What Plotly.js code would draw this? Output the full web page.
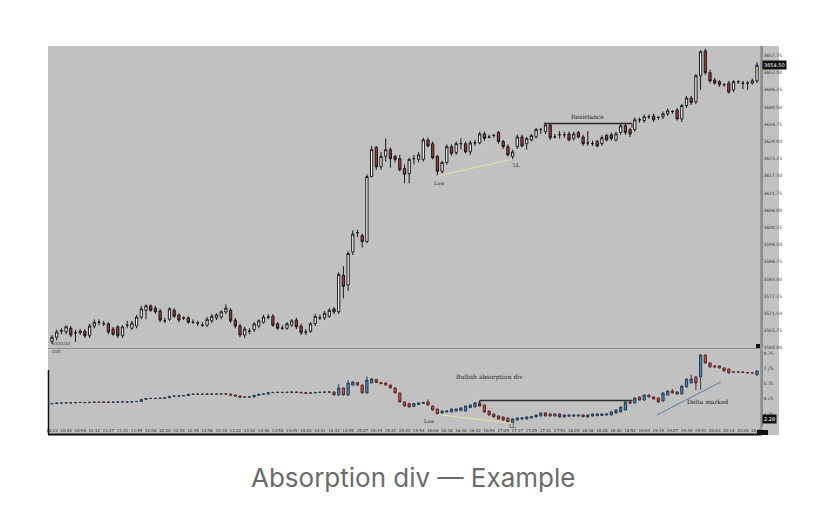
<!DOCTYPE html>
<html><head><meta charset="utf-8">
<script src="https://cdn.plot.ly/plotly-3.0.1.min.js"></script>
<style>html,body{margin:0;padding:0;background:#fff;}#chart{width:828px;height:523px;}</style>
</head><body><div id="chart"></div>
<script>
// ---------- main price candles ----------
const priceOpen = [3562.00,3563.50,3565.50,3565.25,3566.50,3565.00,3565.00,3565.50,3564.00,3567.25,
3568.50,3568.00,3568.00,3566.25,3567.00,3564.00,3567.50,3566.50,3567.25,3570.25,
3572.50,3574.00,3573.25,3572.25,3569.00,3569.50,3572.50,3571.00,3570.00,3570.00,
3568.50,3568.25,3567.50,3567.50,3569.00,3570.00,3570.25,3572.00,3572.50,3569.25,
3567.25,3564.25,3565.50,3566.00,3567.25,3568.50,3570.25,3570.50,3568.00,3566.50,
3566.50,3567.50,3569.25,3567.25,3565.25,3565.50,3568.00,3570.00,3570.00,3570.50,
3573.00,3572.00,3584.25,3581.00,3592.00,3598.50,3597.50,3595.50,3617.25,3627.00,
3620.50,3624.00,3626.25,3624.00,3623.25,3620.00,3618.25,3623.25,3623.00,3623.00,
3629.50,3628.25,3624.00,3619.00,3622.00,3627.25,3625.25,3628.25,3628.25,3625.50,
3628.50,3628.50,3631.50,3630.50,3631.00,3632.00,3629.00,3627.25,3624.00,3627.25,
3630.50,3628.25,3629.50,3630.50,3633.00,3632.25,3634.50,3630.50,3631.25,3631.25,
3631.50,3630.00,3632.00,3630.50,3628.50,3628.25,3629.00,3628.25,3631.00,3631.25,
3629.50,3632.00,3634.25,3633.00,3633.00,3636.25,3636.00,3637.25,3637.50,3637.00,
3637.25,3638.25,3639.00,3639.50,3636.50,3641.00,3643.50,3642.25,3651.00,3659.25,
3652.00,3649.50,3649.00,3648.00,3648.50,3646.25,3649.00,3648.50,3648.50,3648.50,
3649.25];
const priceHigh = [3564.25,3566.00,3566.50,3567.50,3567.25,3566.00,3566.25,3566.25,3568.00,3569.50,
3569.50,3569.00,3568.50,3567.00,3567.50,3567.50,3569.00,3569.00,3571.00,3574.00,
3574.50,3574.50,3574.00,3573.00,3570.00,3573.50,3573.25,3571.50,3570.50,3570.50,
3569.50,3569.00,3568.50,3570.25,3571.25,3571.50,3572.50,3574.50,3573.25,3570.00,
3568.00,3567.00,3566.50,3568.50,3569.50,3571.00,3571.25,3571.25,3568.50,3567.50,
3568.50,3569.50,3570.00,3568.00,3566.25,3568.50,3571.25,3571.00,3572.25,3573.25,
3573.50,3585.25,3587.25,3592.25,3599.25,3599.50,3598.25,3618.00,3627.50,3627.50,
3625.50,3630.00,3627.00,3624.50,3624.50,3621.25,3623.50,3624.50,3625.50,3630.25,
3630.25,3629.00,3624.50,3622.50,3628.00,3628.00,3629.00,3630.00,3629.00,3629.25,
3629.50,3632.25,3632.25,3631.25,3631.50,3632.50,3629.50,3628.00,3626.25,3631.25,
3631.25,3630.50,3631.50,3633.50,3633.50,3635.25,3635.00,3631.50,3632.50,3632.25,
3632.25,3632.25,3632.50,3631.25,3632.50,3629.25,3629.50,3631.00,3631.50,3632.00,
3632.25,3635.00,3635.00,3633.50,3637.00,3637.00,3638.00,3638.00,3638.25,3637.50,
3639.00,3640.00,3639.50,3640.25,3641.50,3644.25,3644.25,3651.50,3659.50,3660.00,
3653.00,3650.25,3649.50,3648.50,3649.25,3649.50,3649.50,3649.25,3649.25,3650.00,
3655.50];
const priceLow = [3561.25,3562.50,3564.50,3564.50,3563.50,3562.00,3564.25,3563.25,3563.25,3566.50,
3567.50,3567.25,3564.50,3564.00,3563.25,3563.25,3566.50,3566.00,3566.50,3569.50,
3569.50,3572.00,3571.25,3568.50,3568.25,3569.00,3570.00,3568.50,3569.25,3568.00,
3568.00,3567.25,3567.00,3567.00,3568.25,3569.25,3569.50,3571.25,3568.25,3566.50,
3563.50,3563.25,3564.50,3565.25,3566.50,3568.00,3569.50,3567.00,3566.00,3566.00,
3566.00,3567.00,3566.25,3564.25,3564.25,3565.00,3567.25,3569.25,3569.25,3570.00,
3571.25,3571.25,3576.50,3579.00,3591.00,3597.00,3593.50,3595.00,3617.00,3619.50,
3619.50,3622.25,3620.25,3622.00,3619.00,3615.00,3615.00,3621.25,3622.00,3622.25,
3627.00,3623.00,3617.50,3618.25,3621.25,3624.25,3624.50,3626.25,3625.00,3624.50,
3627.50,3628.00,3629.25,3630.00,3630.25,3628.25,3626.50,3624.00,3623.00,3626.50,
3627.00,3626.25,3629.00,3630.00,3631.50,3631.50,3629.50,3630.00,3630.00,3630.25,
3629.00,3629.25,3630.00,3627.50,3627.50,3627.50,3627.00,3627.50,3629.00,3629.25,
3629.00,3631.25,3631.25,3630.50,3632.25,3635.25,3635.25,3636.50,3635.50,3636.25,
3636.50,3637.50,3638.25,3636.00,3635.50,3640.25,3641.25,3641.50,3646.25,3651.25,
3648.50,3648.00,3647.25,3647.25,3645.00,3645.50,3648.25,3646.50,3646.25,3648.00,
3648.50];
const priceClose = [3563.50,3565.25,3565.75,3567.00,3564.25,3565.00,3565.50,3564.00,3567.25,3568.50,
3568.50,3568.00,3565.25,3564.50,3564.00,3567.00,3567.50,3568.25,3570.25,3573.00,
3574.00,3572.50,3572.00,3569.25,3569.00,3573.00,3570.50,3569.25,3570.00,3568.50,
3568.50,3568.25,3567.50,3569.50,3570.50,3571.00,3572.00,3573.25,3569.00,3567.25,
3564.25,3566.25,3565.50,3568.00,3569.00,3570.25,3570.25,3567.50,3566.50,3566.50,
3568.00,3569.00,3567.00,3565.00,3565.25,3568.00,3570.50,3570.00,3571.50,3572.50,
3572.00,3584.50,3580.50,3591.50,3598.00,3598.50,3595.50,3617.25,3626.25,3620.50,
3624.00,3626.25,3623.25,3623.00,3619.50,3618.00,3623.00,3623.25,3624.50,3629.50,
3627.50,3623.50,3619.00,3622.00,3627.25,3625.00,3628.25,3628.25,3625.50,3628.50,
3628.50,3631.50,3630.00,3630.50,3631.00,3629.00,3627.25,3624.50,3625.50,3630.50,
3627.50,3630.00,3631.00,3633.00,3633.00,3634.50,3630.25,3630.50,3631.25,3631.25,
3629.50,3631.50,3630.50,3628.25,3628.50,3628.25,3627.50,3630.25,3629.50,3630.00,
3631.50,3634.25,3632.00,3631.50,3636.25,3636.25,3637.25,3637.25,3636.25,3637.00,
3638.25,3639.25,3639.00,3636.50,3641.00,3643.50,3642.00,3651.00,3659.00,3652.00,
3649.25,3648.50,3648.00,3648.00,3645.50,3649.00,3649.00,3648.50,3648.50,3649.25,
3654.50];

// ---------- cumulative delta candles (thousands) ----------
const deltaOpen = [3.76,3.80,3.84,3.85,3.88,3.86,3.89,3.90,3.88,3.92,
3.93,3.91,3.94,3.92,3.93,3.95,3.96,3.94,3.98,4.00,
4.20,4.28,4.30,4.29,4.32,4.36,4.50,4.52,4.54,4.58,
4.70,4.71,4.72,4.70,4.73,4.71,4.73,4.74,4.72,4.63,
4.53,4.42,4.43,4.44,4.60,4.70,4.72,4.86,4.88,4.89,
4.87,4.90,4.91,4.89,4.85,4.80,4.84,4.88,4.90,4.91,
4.93,4.63,5.32,4.63,5.60,5.85,5.60,4.83,5.81,6.15,
5.85,5.80,5.61,5.32,4.83,3.95,3.80,3.50,3.70,3.80,
3.95,3.55,3.26,2.87,2.97,2.97,3.06,3.10,3.06,3.40,
3.46,3.85,3.65,3.06,2.77,2.57,2.48,2.38,1.89,2.18,
2.28,2.28,2.38,2.48,2.57,2.87,2.77,2.57,2.77,2.48,
2.55,2.55,2.57,2.67,2.48,2.57,2.60,2.62,2.67,2.67,
2.87,2.97,3.16,3.95,3.85,4.44,4.14,4.63,4.44,4.34,
4.04,4.63,5.02,4.93,4.73,5.42,5.81,6.40,6.40,8.55,
7.77,7.48,7.48,7.28,7.18,6.89,6.87,6.89,6.84,6.80,
6.59];
const deltaHigh = [3.83,3.87,3.88,3.91,3.91,3.92,3.93,3.93,3.95,3.96,
3.96,3.97,3.97,3.96,3.98,3.99,3.99,4.01,4.03,4.24,
4.31,4.33,4.33,4.35,4.39,4.54,4.55,4.57,4.61,4.74,
4.74,4.75,4.75,4.76,4.76,4.76,4.77,4.77,4.75,4.66,
4.56,4.46,4.47,4.64,4.73,4.75,4.89,4.91,4.92,4.92,
4.93,4.94,4.94,4.92,4.88,4.87,4.91,4.93,4.94,4.96,
4.96,5.70,5.36,6.10,5.95,5.90,5.65,6.45,6.30,6.20,
5.90,5.85,5.66,5.35,4.86,3.98,3.85,3.85,3.90,3.95,
4.20,3.60,3.30,3.10,3.10,3.30,3.30,3.40,3.60,3.70,
3.95,4.09,3.70,3.10,2.82,2.62,2.52,2.42,2.32,2.42,
2.42,2.52,2.55,2.72,2.92,2.92,2.82,2.82,2.82,2.72,
2.70,2.72,2.71,2.72,2.72,2.82,2.82,2.81,2.80,3.02,
3.20,3.50,4.00,4.00,4.40,4.48,4.70,4.68,4.48,4.38,
4.88,5.06,5.20,4.98,5.56,6.25,6.60,6.45,8.65,8.60,
7.82,7.52,7.52,7.32,7.22,6.92,6.92,6.92,6.87,6.83,
7.03];
const deltaLow = [3.73,3.77,3.81,3.82,3.83,3.83,3.86,3.85,3.85,3.89,
3.88,3.88,3.89,3.89,3.90,3.92,3.91,3.91,3.95,3.97,
4.17,4.25,4.26,4.26,4.29,4.33,4.47,4.49,4.51,4.55,
4.67,4.68,4.67,4.67,4.68,4.68,4.70,4.69,4.60,4.50,
4.39,4.39,4.40,4.41,4.57,4.67,4.69,4.83,4.85,4.84,
4.84,4.87,4.86,4.82,4.77,4.77,4.81,4.85,4.87,4.88,
4.60,4.58,4.60,4.55,5.55,5.55,4.78,4.80,5.78,5.80,
5.70,5.58,5.28,4.80,3.90,3.50,3.42,3.46,3.65,3.78,
3.60,3.12,2.72,2.82,2.94,2.94,3.03,3.06,3.02,3.36,
3.42,3.50,2.92,2.62,2.44,2.24,2.14,1.94,1.84,2.14,
2.25,2.25,2.35,2.44,2.54,2.54,2.54,2.54,2.44,2.44,
2.52,2.52,2.54,2.46,2.44,2.54,2.56,2.58,2.64,2.64,
2.84,2.94,3.12,3.80,3.80,4.10,4.10,4.40,4.20,3.90,
4.00,4.60,4.80,4.70,4.70,5.38,5.78,5.10,5.15,7.72,
7.34,7.34,7.24,6.95,6.75,6.84,6.84,6.81,6.77,6.76,
6.55];
const deltaClose = [3.80,3.84,3.85,3.88,3.86,3.89,3.90,3.88,3.92,3.93,
3.91,3.94,3.92,3.93,3.95,3.96,3.94,3.98,4.00,4.20,
4.28,4.30,4.29,4.32,4.36,4.50,4.52,4.54,4.58,4.70,
4.71,4.72,4.70,4.73,4.71,4.73,4.74,4.72,4.63,4.53,
4.42,4.43,4.44,4.60,4.70,4.72,4.86,4.88,4.89,4.87,
4.90,4.91,4.89,4.85,4.80,4.84,4.88,4.90,4.91,4.93,
4.63,5.32,4.63,5.81,5.90,5.60,4.83,6.10,6.20,5.85,
5.75,5.61,5.32,4.83,3.95,3.55,3.46,3.80,3.85,3.90,
3.65,3.16,2.77,3.06,3.06,3.26,3.26,3.36,3.55,3.65,
3.85,3.55,2.97,2.67,2.48,2.28,2.18,1.99,2.28,2.38,
2.38,2.48,2.50,2.67,2.87,2.57,2.57,2.77,2.48,2.67,
2.67,2.67,2.67,2.50,2.67,2.77,2.77,2.77,2.77,2.97,
3.16,3.46,3.95,3.85,4.34,4.14,4.63,4.44,4.24,3.95,
4.83,5.02,4.83,4.73,5.51,6.20,6.20,5.81,8.55,7.77,
7.38,7.38,7.28,6.99,6.79,6.87,6.89,6.84,6.80,6.79,
6.99];

// ---------- axis labels ----------
const priceTicks = [3560.00,3565.75,3571.50,3577.25,3583.00,3588.75,3594.50,3600.25,3606.00,
3611.75,3617.50,3623.25,3629.00,3634.75,3640.50,3646.25,3652.00,3657.75];
const deltaTicks = [2.75,4.25,5.75,7.25,8.75];
const timeLabels = ["10:23","10:44","10:58","11:12","11:27","11:41","11:55","12:08","12:20","12:33",
"12:45","12:58","13:10","13:22","13:34","13:46","13:58","14:09","14:20","14:31",
"14:43","14:55","15:07","15:19","15:31","15:43","15:54","16:06","16:18","16:30",
"16:42","16:54","17:05","17:17","17:29","17:41","17:53","18:05","18:16","18:28",
"18:40","18:52","19:04","19:15","19:27","19:39","19:51","20:03","20:14","20:26","20:38"];

const bars = priceOpen.map((_, i) => i);
const tickStep = 3;
const timeTickVals = timeLabels.map((_, k) => k * tickStep);
const last = bars.length - 1;

// annotation anchors from the data
const lowBar = 82, llBar = 98, resBar = 106, divBar = 91;

const W = 828, H = 523;
const px = x => x / W;           // paper helpers for frame
const py = y => (H - y) / H;

const xr = [-0.85, 150.85];

const traces = [
  {type: 'candlestick', x: bars, open: priceOpen, high: priceHigh, low: priceLow, close: priceClose,
   xaxis: 'x', yaxis: 'y', whiskerwidth: 0,
   increasing: {fillcolor: '#ffffff', line: {color: '#1a1a1a', width: 1}},
   decreasing: {fillcolor: '#a8393a', line: {color: '#1a1a1a', width: 1}},
   hoverinfo: 'skip', showlegend: false},
  {type: 'candlestick', x: bars, open: deltaOpen, high: deltaHigh, low: deltaLow, close: deltaClose,
   xaxis: 'x2', yaxis: 'y2', whiskerwidth: 0,
   increasing: {fillcolor: '#4a86c0', line: {color: '#2a3f55', width: 1}},
   decreasing: {fillcolor: '#d0504e', line: {color: '#5a2a2a', width: 1}},
   hoverinfo: 'skip', showlegend: false}
];

const tickFont = {family: 'DejaVu Sans, sans-serif', size: 4.5, color: '#3a3a3a'};
const annFont = (s) => ({family: 'DejaVu Serif, serif', size: s, color: '#1e1e1e'});

const layout = {
  width: W, height: H,
  margin: {l: 0, r: 0, t: 0, b: 0},
  paper_bgcolor: '#ffffff', plot_bgcolor: 'rgba(0,0,0,0)',
  showlegend: false,
  boxgap: 0.32,
  xaxis: {domain: [px(48), px(761)], range: xr, anchor: 'y', showticklabels: false, showgrid: false,
          zeroline: false, rangeslider: {visible: false}, fixedrange: true},
  yaxis: {domain: [py(348), py(46)], range: [3559.9, 3660.92], side: 'right', anchor: 'x',
          tickvals: priceTicks, ticktext: priceTicks.map(v => v.toFixed(2)), tickfont: tickFont,
          showgrid: false, zeroline: false, ticks: '', showline: true, linecolor: '#8c8c8c', linewidth: 1.5},
  xaxis2: {domain: [px(48), px(761)], range: xr, anchor: 'y2', showgrid: false, zeroline: false,
           tickvals: timeTickVals, ticktext: timeLabels, tickfont: {family: 'DejaVu Sans, sans-serif', size: 4, color: '#2a2a2a'},
           ticks: '', rangeslider: {visible: false}, tickangle: 0},
  yaxis2: {domain: [py(427), py(350)], range: [1.495, 9.04], side: 'right', anchor: 'x2',
           tickvals: deltaTicks, ticktext: deltaTicks.map(v => v.toFixed(2)), tickfont: tickFont,
           showgrid: false, zeroline: false, ticks: '', showline: true, linecolor: '#8c8c8c', linewidth: 1.5},
  shapes: [
    // gray chart window
    {type: 'rect', xref: 'paper', yref: 'paper', x0: px(48), x1: px(779), y0: py(435), y1: py(46),
     fillcolor: '#c1c1c1', line: {width: 0}, layer: 'below'},
    // separator between panels
    {type: 'line', xref: 'paper', yref: 'paper', x0: px(48), x1: px(761), y0: py(348.5), y1: py(348.5),
     line: {color: '#8e8e8e', width: 1}},
    // bottom black border of time strip
    {type: 'line', xref: 'paper', yref: 'paper', x0: px(48), x1: px(761), y0: py(434.5), y1: py(434.5),
     line: {color: '#111', width: 2}},
    // left dark edge in lower panel
    {type: 'line', xref: 'paper', yref: 'paper', x0: px(48.5), x1: px(48.5), y0: py(434), y1: py(370),
     line: {color: '#111', width: 1.5}},
    // right axis separator full height
    {type: 'line', xref: 'paper', yref: 'paper', x0: px(761), x1: px(761), y0: py(435), y1: py(46),
     line: {color: '#8c8c8c', width: 1.5}},
    // small black markers
    {type: 'rect', xref: 'paper', yref: 'paper', x0: px(756), x1: px(760), y0: py(348), y1: py(344),
     fillcolor: '#111', line: {width: 0}},
    {type: 'rect', xref: 'paper', yref: 'paper', x0: px(757), x1: px(768), y0: py(435), y1: py(430),
     fillcolor: '#111', line: {width: 0}},
    // Resistance line (main)
    {type: 'line', xref: 'x', yref: 'y', x0: 104.7, x1: 123.4, y0: priceHigh[resBar], y1: priceHigh[resBar],
     line: {color: '#2a2a2a', width: 1.5}},
    {type: 'line', xref: 'x', yref: 'y', x0: 123.4, x1: 123.4, y0: priceHigh[resBar], y1: priceHigh[resBar] - 1.4,
     line: {color: '#2a2a2a', width: 1}},
    // yellow low -> LL line (main)
    {type: 'line', xref: 'x', yref: 'y', x0: lowBar, x1: llBar, y0: priceLow[lowBar], y1: priceLow[llBar],
     line: {color: '#e6e2a2', width: 1}},
    // resistance-like line in delta panel
    {type: 'line', xref: 'x2', yref: 'y2', x0: divBar, x1: 123.5, y0: deltaHigh[divBar], y1: deltaHigh[divBar],
     line: {color: '#2e2e2e', width: 1.5}},
    {type: 'line', xref: 'x2', yref: 'y2', x0: divBar, x1: divBar, y0: deltaHigh[divBar], y1: deltaHigh[divBar] - 0.5,
     line: {color: '#2e2e2e', width: 1}},
    // yellow low -> LL line (delta)
    {type: 'line', xref: 'x2', yref: 'y2', x0: lowBar, x1: llBar, y0: deltaLow[lowBar], y1: deltaLow[llBar],
     line: {color: '#e6e2a2', width: 1}},
    // delta marked trend line
    {type: 'line', xref: 'x2', yref: 'y2', x0: 128.7, x1: 142.3, y0: 2.67, y1: 5.91,
     line: {color: '#5a7ea6', width: 1}}
  ],
  annotations: [
    {xref: 'x', yref: 'y', x: 114, y: 3637.4, text: 'Resistance', showarrow: false, font: annFont(6)},
    {xref: 'x', yref: 'y', x: lowBar + 0.5, y: priceLow[lowBar] - 2.3, text: 'Low', showarrow: false, font: annFont(5)},
    {xref: 'x', yref: 'y', x: llBar + 0.8, y: priceLow[llBar] - 1.9, text: 'LL', showarrow: false, font: annFont(5)},
    {xref: 'x2', yref: 'y2', x: 93, y: 6.40, text: 'Bullish absorption div', showarrow: false, font: annFont(6)},
    {xref: 'x2', yref: 'y2', x: lowBar - 1.6, y: 2.08, text: 'Low', showarrow: false, font: annFont(5)},
    {xref: 'x2', yref: 'y2', x: llBar, y: 1.62, text: 'LL', showarrow: false, font: annFont(5)},
    {xref: 'x2', yref: 'y2', x: 139.4, y: 4.04, text: 'Delta marked', showarrow: false, font: annFont(6)},
    // last price box
    {xref: 'paper', yref: 'y', x: px(762), xanchor: 'left', y: priceClose[last], text: priceClose[last].toFixed(2),
     showarrow: false, bgcolor: '#111', font: {family: 'DejaVu Sans, sans-serif', size: 5, color: '#fff'}, borderpad: 1},
    {xref: 'paper', yref: 'y2', x: px(762), xanchor: 'left', y: 2.28, text: '2.28',
     showarrow: false, bgcolor: '#111', font: {family: 'DejaVu Sans, sans-serif', size: 5, color: '#fff'}, borderpad: 1},
    // small corner labels
    {xref: 'paper', yref: 'paper', x: px(50), y: py(344), xanchor: 'left', text: '03/01/20', showarrow: false,
     font: {family: 'DejaVu Sans, sans-serif', size: 4, color: '#333'}},
    {xref: 'paper', yref: 'paper', x: px(50), y: py(356), xanchor: 'left', text: 'CVD', showarrow: false,
     font: {family: 'DejaVu Sans, sans-serif', size: 4, color: '#333'}},
    // caption
    {xref: 'paper', yref: 'paper', x: px(413), y: py(477), xanchor: 'center', yanchor: 'middle',
     text: 'Absorption div \u2014 Example', showarrow: false,
     font: {family: 'Inter, Roboto, sans-serif', size: 26, color: '#6b6b6b'}}
  ]
};

Plotly.newPlot('chart', traces, layout, {staticPlot: true, displayModeBar: false});
</script>
</body></html>
